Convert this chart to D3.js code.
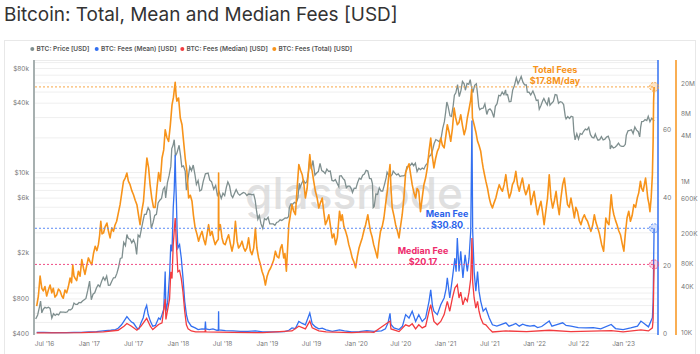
<!DOCTYPE html>
<html><head><meta charset="utf-8">
<script src="https://cdn.jsdelivr.net/npm/d3@7"></script>
<style>
body{margin:0;background:#fff;}
svg{display:block;font-family:Inter,"Noto Sans",sans-serif;}
</style></head><body>
<svg id="c" width="700" height="354"></svg>
<script>
// ---------- DATA ----------
const chartTitle = "Bitcoin: Total, Mean and Median Fees [USD]";
const legendLabels = ["BTC: Price [USD]","BTC: Fees (Mean) [USD]","BTC: Fees (Median) [USD]","BTC: Fees (Total) [USD]"];
const priceTicks = [400,800,2000,6000,10000,40000,80000];
const priceTickLabels = ["$400","$800","$2k","$6k","$10k","$40k","$80k"];
const meanTicks = [0,20,40,60];
const totalTicks = [10000,40000,80000,200000,600000,1000000,4000000,8000000,20000000];
const totalTickLabels = ["10K","40K","80K","200K","600K","1M","4M","8M","20M"];
const xTickDates = ["2016-07-01","2017-01-01","2017-07-01","2018-01-01","2018-07-01","2019-01-01","2019-07-01","2020-01-01","2020-07-01","2021-01-01","2021-07-01","2022-01-01","2022-07-01","2023-01-01"];
const latest = {total:17800000, mean:30.80, median:20.17};

const priceSeries = [["2016-05-28",530],["2016-06-05",575],["2016-06-12",670],["2016-06-17",760],["2016-06-22",600],["2016-06-28",645],["2016-07-05",670],["2016-07-12",660],["2016-07-19",672],["2016-07-26",655],["2016-08-02",540],["2016-08-09",590],["2016-08-16",570],["2016-08-23",585],["2016-08-30",575],["2016-09-06",610],["2016-09-13",608],["2016-09-20",608],["2016-09-27",605],["2016-10-04",610],["2016-10-11",640],["2016-10-18",637],["2016-10-25",655],["2016-11-01",730],["2016-11-08",710],["2016-11-15",712],["2016-11-22",738],["2016-11-29",733],["2016-12-06",760],["2016-12-13",780],["2016-12-20",800],["2016-12-27",930],["2017-01-04",1130],["2017-01-11",780],["2017-01-18",870],["2017-01-25",895],["2017-02-01",985],["2017-02-08",1050],["2017-02-15",1010],["2017-02-22",1125],["2017-03-01",1220],["2017-03-08",1150],["2017-03-15",1250],["2017-03-22",1040],["2017-03-29",1045],["2017-04-05",1130],["2017-04-12",1210],["2017-04-19",1215],["2017-04-26",1320],["2017-05-03",1500],["2017-05-10",1780],["2017-05-17",1800],["2017-05-24",2450],["2017-05-31",2300],["2017-06-06",2870],["2017-06-12",2650],["2017-06-19",2620],["2017-06-26",2430],["2017-07-03",2580],["2017-07-10",2370],["2017-07-16",1930],["2017-07-22",2840],["2017-07-29",2730],["2017-08-05",3250],["2017-08-12",3850],["2017-08-17",4300],["2017-08-24",4300],["2017-09-01",4900],["2017-09-08",4600],["2017-09-14",3250],["2017-09-21",3630],["2017-09-28",4200],["2017-10-05",4300],["2017-10-12",5400],["2017-10-19",5700],["2017-10-26",5900],["2017-11-02",7100],["2017-11-08",7400],["2017-11-12",5950],["2017-11-19",8050],["2017-11-26",9300],["2017-12-03",11200],["2017-12-07",16000],["2017-12-12",17000],["2017-12-17",19100],["2017-12-22",13800],["2017-12-28",14600],["2018-01-06",17100],["2018-01-12",13900],["2018-01-17",11100],["2018-01-24",11300],["2018-01-31",10200],["2018-02-05",6950],["2018-02-12",8900],["2018-02-19",11100],["2018-02-26",10300],["2018-03-05",11500],["2018-03-12",9500],["2018-03-18",7800],["2018-03-25",8450],["2018-04-01",6850],["2018-04-08",7000],["2018-04-15",8300],["2018-04-24",9650],["2018-05-05",9800],["2018-05-12",8500],["2018-05-19",8250],["2018-05-28",7100],["2018-06-05",7650],["2018-06-12",6300],["2018-06-19",6750],["2018-06-28",5900],["2018-07-05",6550],["2018-07-12",6250],["2018-07-19",7400],["2018-07-25",8200],["2018-08-01",7600],["2018-08-08",6300],["2018-08-14",6000],["2018-08-21",6500],["2018-08-28",7050],["2018-09-05",6500],["2018-09-12",6300],["2018-09-20",6500],["2018-09-27",6650],["2018-10-04",6550],["2018-10-11",6250],["2018-10-18",6450],["2018-10-25",6420],["2018-11-01",6350],["2018-11-08",6420],["2018-11-14",5700],["2018-11-20",4550],["2018-11-25",3900],["2018-12-01",4200],["2018-12-08",3550],["2018-12-15",3250],["2018-12-22",3950],["2018-12-29",3850],["2019-01-06",4050],["2019-01-13",3550],["2019-01-20",3550],["2019-01-27",3550],["2019-02-03",3450],["2019-02-10",3650],["2019-02-17",3700],["2019-02-24",3850],["2019-03-03",3800],["2019-03-10",3900],["2019-03-17",4000],["2019-03-24",3990],["2019-03-31",4100],["2019-04-03",4900],["2019-04-10",5300],["2019-04-17",5250],["2019-04-24",5450],["2019-05-01",5350],["2019-05-08",5950],["2019-05-14",8000],["2019-05-17",7300],["2019-05-24",8000],["2019-05-31",8550],["2019-06-07",8000],["2019-06-14",8250],["2019-06-21",10200],["2019-06-26",12900],["2019-07-02",10600],["2019-07-09",12600],["2019-07-17",9400],["2019-07-24",9800],["2019-07-31",10100],["2019-08-07",11900],["2019-08-14",10300],["2019-08-21",10100],["2019-08-28",9700],["2019-09-04",10600],["2019-09-11",10150],["2019-09-18",10200],["2019-09-25",8450],["2019-10-02",8350],["2019-10-09",8600],["2019-10-16",8000],["2019-10-23",7450],["2019-10-26",9250],["2019-11-02",9300],["2019-11-09",8800],["2019-11-16",8500],["2019-11-23",7300],["2019-11-30",7550],["2019-12-07",7550],["2019-12-14",7100],["2019-12-18",6650],["2019-12-25",7250],["2020-01-01",7200],["2020-01-08",8100],["2020-01-15",8850],["2020-01-22",8650],["2020-01-29",9400],["2020-02-05",9600],["2020-02-12",10350],["2020-02-19",10200],["2020-02-26",8800],["2020-03-04",8750],["2020-03-09",7900],["2020-03-12",4900],["2020-03-16",5000],["2020-03-23",6450],["2020-03-30",6400],["2020-04-06",7300],["2020-04-13",6850],["2020-04-20",6850],["2020-04-27",7750],["2020-05-04",8900],["2020-05-08",9950],["2020-05-15",9350],["2020-05-22",9150],["2020-05-29",9550],["2020-06-02",10200],["2020-06-09",9780],["2020-06-16",9450],["2020-06-23",9630],["2020-06-30",9140],["2020-07-07",9250],["2020-07-14",9250],["2020-07-21",9390],["2020-07-28",11100],["2020-08-04",11200],["2020-08-11",11400],["2020-08-18",11950],["2020-08-25",11350],["2020-09-01",11950],["2020-09-08",10100],["2020-09-15",10800],["2020-09-22",10500],["2020-09-29",10850],["2020-10-06",10600],["2020-10-13",11450],["2020-10-20",11900],["2020-10-27",13650],["2020-11-03",14000],["2020-11-10",15300],["2020-11-17",17700],["2020-11-24",19150],["2020-12-01",18800],["2020-12-08",18300],["2020-12-15",19400],["2020-12-22",23800],["2020-12-29",27400],["2021-01-03",32800],["2021-01-08",40600],["2021-01-13",37300],["2021-01-21",30800],["2021-01-27",30400],["2021-02-03",37600],["2021-02-08",46400],["2021-02-14",48700],["2021-02-21",57500],["2021-02-28",45100],["2021-03-07",51200],["2021-03-13",61200],["2021-03-20",58300],["2021-03-25",51300],["2021-04-01",58800],["2021-04-08",57800],["2021-04-14",63500],["2021-04-18",56200],["2021-04-25",49000],["2021-05-02",56600],["2021-05-09",58300],["2021-05-13",49700],["2021-05-19",37000],["2021-05-23",34800],["2021-05-30",35700],["2021-06-06",35800],["2021-06-13",39100],["2021-06-21",31600],["2021-06-27",34600],["2021-07-04",35300],["2021-07-11",33800],["2021-07-20",29800],["2021-07-26",37200],["2021-08-02",39200],["2021-08-09",46300],["2021-08-16",45900],["2021-08-23",49500],["2021-08-30",47000],["2021-09-06",51700],["2021-09-08",46900],["2021-09-14",47100],["2021-09-21",40700],["2021-09-28",41000],["2021-10-05",51500],["2021-10-12",56000],["2021-10-20",65900],["2021-10-27",58400],["2021-11-03",62900],["2021-11-09",67500],["2021-11-16",60300],["2021-11-23",57100],["2021-11-30",57000],["2021-12-04",49400],["2021-12-11",49300],["2021-12-18",46700],["2021-12-27",50600],["2022-01-03",46500],["2022-01-10",41800],["2022-01-17",42200],["2022-01-22",35100],["2022-01-29",37900],["2022-02-05",41500],["2022-02-10",43600],["2022-02-17",40500],["2022-02-24",38300],["2022-03-02",44400],["2022-03-07",38000],["2022-03-14",39600],["2022-03-21",41000],["2022-03-28",47100],["2022-04-04",46600],["2022-04-11",39500],["2022-04-18",40800],["2022-04-25",40400],["2022-05-02",38500],["2022-05-09",30100],["2022-05-12",28900],["2022-05-19",30300],["2022-05-26",29200],["2022-06-02",30500],["2022-06-09",30100],["2022-06-13",22500],["2022-06-18",19000],["2022-06-25",21500],["2022-07-02",19300],["2022-07-09",21600],["2022-07-16",21200],["2022-07-23",22600],["2022-07-30",23600],["2022-08-06",23200],["2022-08-13",24400],["2022-08-20",21100],["2022-08-27",20000],["2022-09-03",19800],["2022-09-09",21400],["2022-09-13",20200],["2022-09-20",18900],["2022-09-27",19100],["2022-10-04",20300],["2022-10-11",19000],["2022-10-18",19300],["2022-10-25",20100],["2022-11-01",20500],["2022-11-08",18500],["2022-11-09",15900],["2022-11-15",16900],["2022-11-22",16200],["2022-11-29",16400],["2022-12-06",17000],["2022-12-13",17800],["2022-12-20",16900],["2022-12-27",16700],["2023-01-03",16700],["2023-01-10",17400],["2023-01-14",20900],["2023-01-21",22800],["2023-01-28",23000],["2023-02-04",23300],["2023-02-11",21600],["2023-02-18",24600],["2023-02-25",23100],["2023-03-04",22400],["2023-03-10",20200],["2023-03-14",24600],["2023-03-18",27400],["2023-03-25",27500],["2023-04-01",28500],["2023-04-08",28000],["2023-04-14",30500],["2023-04-21",27300],["2023-04-28",29300],["2023-05-03",28700],["2023-05-08",27700]];

const totalFeeSeries = [["2016-06-01",22000],["2016-06-08",30000],["2016-06-15",55000],["2016-06-22",38000],["2016-06-28",35000],["2016-07-05",40000],["2016-07-12",30000],["2016-07-19",36000],["2016-07-26",42000],["2016-08-02",33000],["2016-08-08",38000],["2016-08-15",29000],["2016-08-22",31000],["2016-08-29",37000],["2016-09-05",35000],["2016-09-12",30000],["2016-09-18",28000],["2016-09-25",36000],["2016-10-02",33000],["2016-10-09",40000],["2016-10-16",52000],["2016-10-22",45000],["2016-10-27",78000],["2016-11-01",55000],["2016-11-05",52000],["2016-11-12",48000],["2016-11-19",64000],["2016-11-26",55000],["2016-12-03",91000],["2016-12-10",70000],["2016-12-16",58000],["2016-12-23",75000],["2016-12-30",96000],["2017-01-06",85000],["2017-01-13",78000],["2017-01-20",110000],["2017-01-27",137000],["2017-02-03",120000],["2017-02-09",144000],["2017-02-14",190000],["2017-02-19",294000],["2017-02-24",200000],["2017-03-02",206000],["2017-03-09",250000],["2017-03-16",279000],["2017-03-22",220000],["2017-03-29",177000],["2017-04-05",240000],["2017-04-12",216000],["2017-04-18",260000],["2017-04-25",294000],["2017-05-02",380000],["2017-05-09",488000],["2017-05-16",700000],["2017-05-23",998000],["2017-05-30",1100000],["2017-06-06",1280000],["2017-06-12",1000000],["2017-06-19",899000],["2017-06-26",750000],["2017-07-03",662000],["2017-07-10",560000],["2017-07-17",488000],["2017-07-24",350000],["2017-07-30",265000],["2017-08-06",400000],["2017-08-13",541000],["2017-08-20",1100000],["2017-08-27",2030000],["2017-09-03",1500000],["2017-09-09",900000],["2017-09-16",598000],["2017-09-23",450000],["2017-09-30",450000],["2017-10-07",800000],["2017-10-14",1300000],["2017-10-21",1000000],["2017-10-28",2030000],["2017-11-04",2600000],["2017-11-10",4820000],["2017-11-17",3800000],["2017-11-24",3380000],["2017-12-01",5500000],["2017-12-08",10300000],["2017-12-14",13000000],["2017-12-21",20500000],["2017-12-25",13500000],["2017-12-28",11500000],["2018-01-04",12700000],["2018-01-11",6890000],["2018-01-18",5610000],["2018-01-24",3500000],["2018-01-31",2030000],["2018-02-07",1350000],["2018-02-14",598000],["2018-02-21",650000],["2018-02-28",541000],["2018-03-06",350000],["2018-03-13",239000],["2018-03-20",200000],["2018-03-27",160000],["2018-04-03",190000],["2018-04-10",216000],["2018-04-17",170000],["2018-04-24",144000],["2018-05-01",200000],["2018-05-07",265000],["2018-05-14",190000],["2018-05-21",216000],["2018-05-28",170000],["2018-06-03",144000],["2018-06-10",160000],["2018-06-16",170000],["2018-06-17",1280000],["2018-06-18",220000],["2018-06-24",265000],["2018-07-01",177000],["2018-07-07",150000],["2018-07-14",144000],["2018-07-21",170000],["2018-07-28",195000],["2018-08-04",150000],["2018-08-11",118000],["2018-08-18",150000],["2018-08-25",294000],["2018-09-01",160000],["2018-09-07",130000],["2018-09-14",140000],["2018-09-21",160000],["2018-09-28",130000],["2018-10-04",118000],["2018-10-11",130000],["2018-10-18",177000],["2018-10-25",120000],["2018-11-01",106000],["2018-11-08",130000],["2018-11-15",239000],["2018-11-21",130000],["2018-11-28",96000],["2018-12-05",80000],["2018-12-12",64000],["2018-12-19",55000],["2018-12-26",42000],["2019-01-02",55000],["2019-01-09",64000],["2019-01-16",70000],["2019-01-22",78000],["2019-01-29",90000],["2019-02-05",118000],["2019-02-12",100000],["2019-02-19",96000],["2019-02-26",130000],["2019-03-04",144000],["2019-03-11",96000],["2019-03-16",110000],["2019-03-22",64000],["2019-04-01",265000],["2019-04-07",350000],["2019-04-14",488000],["2019-04-21",400000],["2019-04-28",359000],["2019-05-05",800000],["2019-05-12",1660000],["2019-05-19",1400000],["2019-05-26",1220000],["2019-06-02",900000],["2019-06-08",598000],["2019-06-15",800000],["2019-06-26",2250000],["2019-07-01",1600000],["2019-07-06",1350000],["2019-07-12",1000000],["2019-07-19",735000],["2019-07-26",600000],["2019-08-02",441000],["2019-08-09",520000],["2019-08-16",598000],["2019-08-22",400000],["2019-08-29",265000],["2019-09-05",300000],["2019-09-12",359000],["2019-09-19",250000],["2019-09-26",177000],["2019-10-03",200000],["2019-10-10",144000],["2019-10-17",180000],["2019-10-26",400000],["2019-11-01",300000],["2019-11-06",359000],["2019-11-13",250000],["2019-11-20",216000],["2019-11-27",180000],["2019-12-03",144000],["2019-12-10",120000],["2019-12-17",96000],["2019-12-24",85000],["2019-12-31",71000],["2020-01-07",100000],["2020-01-14",130000],["2020-01-20",150000],["2020-01-27",177000],["2020-02-03",220000],["2020-02-10",265000],["2020-02-19",359000],["2020-02-24",280000],["2020-03-01",216000],["2020-03-08",180000],["2020-03-14",144000],["2020-03-21",120000],["2020-03-29",96000],["2020-04-04",150000],["2020-04-11",216000],["2020-04-18",250000],["2020-04-25",325000],["2020-05-02",500000],["2020-05-09",735000],["2020-05-15",1200000],["2020-05-20",1660000],["2020-05-24",800000],["2020-05-29",441000],["2020-06-05",350000],["2020-06-12",265000],["2020-06-19",220000],["2020-06-26",177000],["2020-07-02",250000],["2020-07-09",359000],["2020-07-16",600000],["2020-07-23",1300000],["2020-07-30",1500000],["2020-08-06",1700000],["2020-08-13",1200000],["2020-08-19",899000],["2020-08-26",700000],["2020-09-02",598000],["2020-09-08",800000],["2020-09-15",735000],["2020-09-22",395000],["2020-09-29",600000],["2020-10-06",899000],["2020-10-13",1100000],["2020-10-20",1500000],["2020-10-27",2500000],["2020-11-03",3740000],["2020-11-09",2200000],["2020-11-16",1500000],["2020-11-23",2000000],["2020-11-30",2490000],["2020-12-07",2800000],["2020-12-14",3740000],["2020-12-21",3000000],["2020-12-28",2760000],["2021-01-04",4000000],["2021-01-10",5610000],["2021-01-17",4500000],["2021-01-24",3380000],["2021-01-31",5000000],["2021-02-07",9350000],["2021-02-13",7000000],["2021-02-20",5610000],["2021-02-27",6000000],["2021-03-06",7620000],["2021-03-13",5500000],["2021-03-20",4140000],["2021-03-27",5000000],["2021-04-02",6890000],["2021-04-09",9000000],["2021-04-16",12000000],["2021-04-20",16400000],["2021-04-23",6890000],["2021-04-30",5610000],["2021-05-07",4500000],["2021-05-14",3380000],["2021-05-20",3000000],["2021-05-27",2490000],["2021-06-02",1800000],["2021-06-06",1500000],["2021-06-12",1200000],["2021-06-17",1000000],["2021-06-24",800000],["2021-07-01",598000],["2021-07-07",500000],["2021-07-14",441000],["2021-07-21",520000],["2021-07-28",598000],["2021-08-04",750000],["2021-08-11",899000],["2021-08-17",800000],["2021-08-24",735000],["2021-08-31",900000],["2021-09-07",1220000],["2021-09-14",800000],["2021-09-21",598000],["2021-09-28",700000],["2021-10-04",899000],["2021-10-11",1000000],["2021-10-18",1350000],["2021-10-25",900000],["2021-11-01",735000],["2021-11-07",900000],["2021-11-14",1100000],["2021-11-21",800000],["2021-11-28",662000],["2021-12-04",750000],["2021-12-11",899000],["2021-12-19",488000],["2021-12-25",598000],["2022-01-01",735000],["2022-01-08",500000],["2022-01-15",359000],["2022-01-22",450000],["2022-01-29",541000],["2022-02-04",400000],["2022-02-11",265000],["2022-02-18",400000],["2022-02-25",598000],["2022-03-04",1220000],["2022-03-11",600000],["2022-03-18",441000],["2022-03-25",550000],["2022-04-01",735000],["2022-04-07",500000],["2022-04-14",359000],["2022-04-21",600000],["2022-04-28",899000],["2022-05-05",1100000],["2022-05-12",700000],["2022-05-18",488000],["2022-05-25",450000],["2022-06-01",598000],["2022-06-08",450000],["2022-06-15",325000],["2022-06-21",450000],["2022-06-28",395000],["2022-07-05",300000],["2022-07-12",265000],["2022-07-19",320000],["2022-07-26",359000],["2022-08-01",320000],["2022-08-08",294000],["2022-08-15",250000],["2022-08-22",216000],["2022-08-29",260000],["2022-09-05",359000],["2022-09-12",280000],["2022-09-19",239000],["2022-09-26",200000],["2022-10-05",144000],["2022-10-13",118000],["2022-10-18",200000],["2022-10-22",325000],["2022-10-29",280000],["2022-11-04",265000],["2022-11-09",450000],["2022-11-13",662000],["2022-11-18",450000],["2022-11-24",359000],["2022-12-01",300000],["2022-12-07",265000],["2022-12-14",220000],["2022-12-21",195000],["2022-12-28",150000],["2023-01-04",118000],["2023-01-10",200000],["2023-01-17",325000],["2023-01-24",400000],["2023-01-31",294000],["2023-02-07",350000],["2023-02-14",488000],["2023-02-21",450000],["2023-02-28",598000],["2023-03-06",700000],["2023-03-13",1000000],["2023-03-18",800000],["2023-03-24",735000],["2023-03-29",900000],["2023-04-03",1100000],["2023-04-08",800000],["2023-04-12",598000],["2023-04-17",500000],["2023-04-21",395000],["2023-04-26",600000],["2023-05-01",1220000],["2023-05-04",3380000],["2023-05-06",11500000],["2023-05-08",17800000]];

const meanFeeSeries = [["2016-06-01",0.2],["2016-07-01",0.15],["2016-08-01",0.1],["2016-09-01",0.1],["2016-10-01",0.1],["2016-11-01",0.15],["2016-12-01",0.2],["2017-01-01",0.3],["2017-02-01",0.4],["2017-03-01",0.6],["2017-04-01",0.8],["2017-04-20",1.0],["2017-05-01",1.4],["2017-05-15",2.4],["2017-05-25",3.5],["2017-06-06",4.8],["2017-06-15",4.0],["2017-06-25",3.2],["2017-07-03",2.9],["2017-07-17",1.4],["2017-07-25",1.2],["2017-08-03",3.0],["2017-08-12",4.5],["2017-08-20",7.0],["2017-08-26",8.1],["2017-09-01",5.5],["2017-09-10",3.5],["2017-09-20",2.0],["2017-10-01",2.2],["2017-10-14",4.4],["2017-10-21",4.0],["2017-10-28",5.4],["2017-11-04",7.0],["2017-11-10",18.1],["2017-11-13",6.4],["2017-11-20",9.0],["2017-11-28",17.1],["2017-12-03",26],["2017-12-08",24],["2017-12-13",36.8],["2017-12-17",42],["2017-12-21",52.4],["2017-12-23",45],["2017-12-26",38.7],["2017-12-29",30],["2018-01-01",25],["2018-01-08",26],["2018-01-15",22],["2018-01-22",16.2],["2018-01-29",9.3],["2018-02-05",5.4],["2018-02-12",3.4],["2018-02-25",2.0],["2018-03-13",1.5],["2018-03-25",1.0],["2018-04-10",1.2],["2018-04-22",1.1],["2018-04-24",3.4],["2018-04-26",1.2],["2018-05-10",1.0],["2018-05-25",1.2],["2018-06-10",0.8],["2018-06-16",0.8],["2018-06-17",6.4],["2018-06-18",0.9],["2018-07-15",0.7],["2018-08-15",0.6],["2018-09-15",0.5],["2018-10-15",0.5],["2018-11-15",0.6],["2018-12-15",0.3],["2019-01-15",0.3],["2019-02-15",0.35],["2019-03-15",0.4],["2019-04-01",0.8],["2019-04-14",1.5],["2019-04-28",1.3],["2019-05-12",3.4],["2019-05-26",2.8],["2019-06-08",2.4],["2019-06-26",5.9],["2019-07-06",2.7],["2019-07-19",1.8],["2019-08-02",1.2],["2019-08-16",1.4],["2019-09-01",0.9],["2019-09-26",0.5],["2019-10-26",0.9],["2019-11-15",0.6],["2019-12-15",0.3],["2020-01-15",0.4],["2020-02-15",0.7],["2020-03-15",0.5],["2020-04-15",0.6],["2020-05-01",1.2],["2020-05-12",3.0],["2020-05-20",5.8],["2020-05-24",2.5],["2020-06-05",1.5],["2020-06-26",1.0],["2020-07-10",2.0],["2020-07-23",5.4],["2020-08-06",4.4],["2020-08-19",6.4],["2020-09-02",3.4],["2020-09-15",5.4],["2020-09-29",3.4],["2020-10-13",4.4],["2020-10-27",9.3],["2020-11-03",12.7],["2020-11-10",8.0],["2020-11-16",6.4],["2020-11-30",5.4],["2020-12-14",8.3],["2020-12-28",10.3],["2021-01-05",13],["2021-01-10",16.2],["2021-01-20",10.3],["2021-01-31",16.2],["2021-02-10",22],["2021-02-15",18],["2021-02-20",27.9],["2021-02-27",18.1],["2021-03-06",24],["2021-03-15",16.2],["2021-03-24",23],["2021-04-02",18.1],["2021-04-09",22],["2021-04-16",30],["2021-04-21",62.5],["2021-04-24",30],["2021-04-30",18.1],["2021-05-07",12.3],["2021-05-14",18.1],["2021-05-20",12.3],["2021-05-27",9.3],["2021-06-06",6.4],["2021-06-17",7.3],["2021-07-01",4.4],["2021-07-14",2.4],["2021-08-01",2.0],["2021-08-15",2.4],["2021-09-07",3.0],["2021-09-20",2.0],["2021-10-05",2.4],["2021-10-18",2.8],["2021-11-01",2.0],["2021-11-15",2.6],["2021-12-01",2.2],["2021-12-15",2.0],["2022-01-01",2.2],["2022-01-15",1.6],["2022-02-01",1.9],["2022-03-04",3.5],["2022-03-15",2.0],["2022-04-01",2.4],["2022-04-28",3.0],["2022-05-12",2.2],["2022-06-01",2.0],["2022-07-01",1.6],["2022-08-01",1.5],["2022-09-01",1.6],["2022-10-01",1.2],["2022-11-13",2.5],["2022-12-01",1.3],["2023-01-01",1.0],["2023-02-01",1.5],["2023-03-01",2.0],["2023-03-15",3.5],["2023-04-01",2.6],["2023-04-15",1.8],["2023-05-01",4.5],["2023-05-04",9],["2023-05-06",20],["2023-05-08",30.8]];

const medianFeeSeries = [["2016-06-01",0.05],["2016-12-01",0.08],["2017-03-01",0.3],["2017-05-01",0.8],["2017-05-25",2.0],["2017-06-06",2.8],["2017-06-25",2.0],["2017-07-17",0.8],["2017-08-03",2.0],["2017-08-26",4.3],["2017-09-10",2.0],["2017-09-20",1.0],["2017-10-14",2.5],["2017-10-28",3.0],["2017-11-10",10],["2017-11-13",4.0],["2017-11-28",10],["2017-12-03",18],["2017-12-08",16],["2017-12-13",26],["2017-12-21",33.8],["2017-12-26",26],["2018-01-01",18],["2018-01-08",18.4],["2018-01-15",16],["2018-01-22",12],["2018-01-29",6.4],["2018-02-05",2.4],["2018-02-12",1.2],["2018-02-25",0.6],["2018-03-15",0.3],["2018-04-22",0.3],["2018-04-24",1.0],["2018-04-26",0.3],["2018-08-15",0.2],["2018-12-15",0.1],["2019-04-14",0.6],["2019-05-12",2.0],["2019-06-08",1.2],["2019-06-26",3.5],["2019-07-06",1.5],["2019-08-02",0.6],["2019-09-01",0.3],["2019-12-15",0.1],["2020-02-15",0.3],["2020-03-15",0.2],["2020-05-20",3.5],["2020-05-24",1.2],["2020-06-26",0.4],["2020-07-23",2.4],["2020-08-06",2.0],["2020-08-19",2.7],["2020-09-02",1.2],["2020-09-15",2.4],["2020-09-29",1.5],["2020-10-13",2.0],["2020-10-27",6.4],["2020-11-03",8.3],["2020-11-16",3.4],["2020-11-30",2.4],["2020-12-14",3.4],["2020-12-28",5.4],["2021-01-10",9.3],["2021-01-20",6.4],["2021-01-31",10.3],["2021-02-10",13.2],["2021-02-20",14.2],["2021-02-27",10.3],["2021-03-06",12],["2021-03-15",8.3],["2021-03-24",10.3],["2021-04-02",9.3],["2021-04-09",12],["2021-04-16",16],["2021-04-21",27.9],["2021-04-24",15],["2021-04-30",10.3],["2021-05-07",7.3],["2021-05-14",9.3],["2021-05-20",6.4],["2021-05-27",4.4],["2021-06-06",2.7],["2021-06-17",2.4],["2021-07-01",1.2],["2021-07-14",0.3],["2021-09-07",0.6],["2021-12-01",0.4],["2022-03-04",0.8],["2022-06-01",0.4],["2022-11-13",0.7],["2023-01-01",0.3],["2023-03-15",0.9],["2023-04-15",0.6],["2023-05-01",1.5],["2023-05-04",4],["2023-05-06",12],["2023-05-08",20.17]];

// ---------- CHART ----------
const C = {price:"#7f8f8f", mean:"#3370f0", median:"#f23b3f", total:"#f7931a"};
const parse = d3.timeParse("%Y-%m-%d");
const toPts = s => s.map(d => ({date: parse(d[0]), v: d[1]}));
const P = {left:34, right:658, top:60, bottom:334};
const svg = d3.select("#c");

const x = d3.scaleTime().domain([parse("2016-05-21"), parse("2023-05-24")]).range([P.left, P.right]);
const yPrice = d3.scaleLog().domain([393, 93900]).range([P.bottom, P.top]);
const yTotal = d3.scaleLog().domain([9400, 40.5e6]).range([P.bottom, P.top]);
const yMean = d3.scaleLinear().domain([-0.3, 80.3]).range([P.bottom, P.top]);

function fitWidth(sel, w){ const l = sel.node().getComputedTextLength(); sel.attr("font-size", (+sel.attr("font-size"))*w/l); }

// card
svg.append("rect").attr("x",4.5).attr("y",40.5).attr("width",691).attr("height",330)
  .attr("fill","none").attr("stroke","#e8e8e8");

// title
const t = svg.append("text").attr("x",4).attr("y",21).attr("font-size",20).attr("fill","#333")
  .attr("font-weight",400).text(chartTitle);
fitWidth(t, 394);

// legend
const legendX = [32.3, 96.7, 182.3, 274.3];
const legendC = [C.price, C.mean, C.median, C.total];
legendLabels.forEach((l,i) => {
  svg.append("circle").attr("cx",legendX[i]).attr("cy",49).attr("r",2).attr("fill",legendC[i]);
  svg.append("text").attr("x",legendX[i]+4.3).attr("y",51.3).attr("font-size",6.5)
    .attr("font-weight",600).attr("fill","#555").text(l);
});

// grid
svg.append("g").selectAll("line").data(yPrice.ticks()).join("line")
  .attr("x1",P.left).attr("x2",P.right).attr("y1",d=>yPrice(d)+0.5).attr("y2",d=>yPrice(d)+0.5)
  .attr("stroke","#efefef").attr("stroke-width",1);
svg.append("line").attr("x1",P.left).attr("x2",P.right).attr("y1",P.top+0.5).attr("y2",P.top+0.5).attr("stroke","#ececec");

// watermark
const wm = svg.append("text").attr("x",354).attr("y",209).attr("text-anchor","middle")
  .attr("font-size",46).attr("font-weight",500).attr("fill","#d6d6d6").attr("fill-opacity",0.75).text("glassnode");
fitWidth(wm, 218);

// axes
function styleAxis(g){
  g.select(".domain").remove();
  g.selectAll("text").attr("font-size",6.5).attr("fill","#777").attr("font-family","Inter, 'Noto Sans', sans-serif");
}
const axL = svg.append("g").attr("transform",`translate(${P.left},0)`)
  .call(d3.axisLeft(yPrice).tickValues(priceTicks).tickFormat((d,i)=>priceTickLabels[i]).tickSize(0).tickPadding(5));
styleAxis(axL);
const axM = svg.append("g").attr("transform",`translate(${P.right},0)`)
  .call(d3.axisRight(yMean).tickValues(meanTicks).tickSize(0).tickPadding(5));
styleAxis(axM);
const axT = svg.append("g").attr("transform",`translate(676,0)`)
  .call(d3.axisRight(yTotal).tickValues(totalTicks).tickFormat((d,i)=>totalTickLabels[i]).tickSize(0).tickPadding(5));
styleAxis(axT);
const axB = svg.append("g").attr("transform",`translate(0,${P.bottom})`)
  .call(d3.axisBottom(x).tickValues(xTickDates.map(parse)).tickFormat(d3.timeFormat("%b '%y")).tickSize(0).tickPadding(7));
styleAxis(axB);

// axis lines
svg.append("line").attr("x1",P.left).attr("x2",P.left).attr("y1",P.top).attr("y2",P.bottom+1).attr("stroke","#a7b0b0").attr("stroke-width",2);
svg.append("line").attr("x1",P.right).attr("x2",P.right).attr("y1",P.top).attr("y2",P.bottom+1).attr("stroke",C.mean).attr("stroke-width",1.5);
svg.append("line").attr("x1",676).attr("x2",676).attr("y1",P.top).attr("y2",P.bottom+1).attr("stroke",C.total).attr("stroke-width",1.5);

// series
svg.append("clipPath").attr("id","clp").append("rect").attr("x",P.left+1).attr("y",P.top).attr("width",P.right-P.left-1).attr("height",P.bottom-P.top+1);
const plot = svg.append("g").attr("clip-path","url(#clp)");
const lineOf = (ys) => d3.line().x(d=>x(d.date)).y(d=>ys(d.v));
plot.append("path").datum(toPts(priceSeries)).attr("d",lineOf(yPrice)).attr("fill","none").attr("stroke",C.price).attr("stroke-width",1.3);
plot.append("path").datum(toPts(totalFeeSeries)).attr("d",lineOf(yTotal)).attr("fill","none").attr("stroke",C.total).attr("stroke-width",1.6).attr("stroke-linejoin","round");
plot.append("path").datum(toPts(meanFeeSeries)).attr("d",lineOf(yMean)).attr("fill","none").attr("stroke",C.mean).attr("stroke-width",1.3);
plot.append("path").datum(toPts(medianFeeSeries)).attr("d",lineOf(yMean)).attr("fill","none").attr("stroke",C.median).attr("stroke-width",1.3);

// reference lines + markers
const lastDate = parse(totalFeeSeries[totalFeeSeries.length-1][0]);
const refs = [
  {y:yTotal(latest.total), c:"#f7a748", fill:"rgba(247,147,26,0.25)"},
  {y:yMean(latest.mean), c:"#5b8cf5", fill:"rgba(51,112,240,0.2)"},
  {y:yMean(latest.median), c:"#f04d86", fill:"rgba(240,60,120,0.2)"}
];
refs.forEach(r => {
  svg.append("line").attr("x1",P.left+1).attr("x2",x(lastDate)).attr("y1",r.y).attr("y2",r.y)
    .attr("stroke",r.c).attr("stroke-width",1).attr("stroke-dasharray","2,2");
  svg.append("circle").attr("cx",x(lastDate)).attr("cy",r.y).attr("r",4.5)
    .attr("fill",r.fill).attr("stroke",r.c).attr("stroke-width",1).attr("stroke-dasharray","2,1.5");
});

// annotations
function note(xc, y1, lines, color){
  lines.forEach((s,i)=> svg.append("text").attr("x",xc).attr("y",y1+i*11).attr("text-anchor","middle")
    .attr("font-size",9).attr("font-weight",700).attr("fill",color).text(s));
}
note(555, 73, ["Total Fees", "$17.8M/day"], "#f7931a");
note(447, 216.5, ["Mean Fee", "$30.80"], "#2a62ea");
note(423, 254, ["Median Fee", "$20.17"], "#ee2b6c");
</script>
</body></html>
